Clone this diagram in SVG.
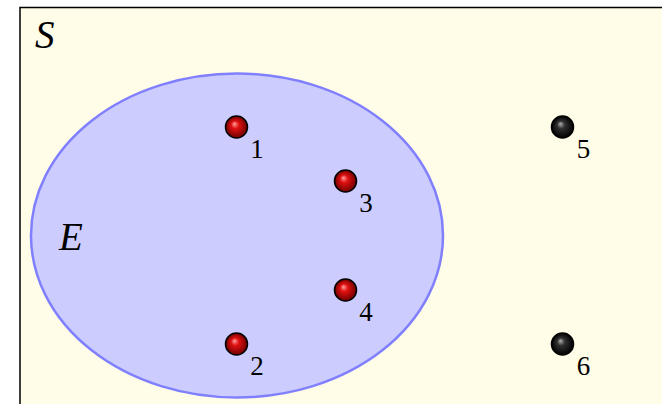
<svg xmlns="http://www.w3.org/2000/svg" width="662" height="404" viewBox="0 0 662 404">
<style>
.lbl{font-family:"Liberation Serif","DejaVu Serif",serif;fill:#000}
.big{font-size:39px;font-style:italic}
.num{font-size:27px;text-anchor:middle}
.ball{stroke:#000;stroke-width:1.5}
</style>
<defs>
<radialGradient id="red" cx="0.5" cy="0.5" r="0.5" fx="0.4" fy="0.35">
<stop offset="0" stop-color="#ffa0a0"/>
<stop offset="0.35" stop-color="#e01010"/>
<stop offset="1" stop-color="#700000"/>
</radialGradient>
<radialGradient id="blk" cx="0.5" cy="0.5" r="0.5" fx="0.4" fy="0.35">
<stop offset="0" stop-color="#b0b0b0"/>
<stop offset="0.35" stop-color="#303030"/>
<stop offset="1" stop-color="#000"/>
</radialGradient>
</defs>
<rect x="0" y="0" width="662" height="404" fill="#fff"/>
<g id="S">
<rect x="20" y="7.5" width="660" height="420" fill="#fffce8" stroke="#000" stroke-width="1.5"/>
<text class="lbl big" x="35" y="48">S</text>
</g>
<g id="E">
<ellipse cx="237" cy="235.5" rx="206" ry="162" fill="#ccccff" stroke="#8080ff" stroke-width="2.5"/>
<text class="lbl big" x="59" y="250">E</text>
</g>
<g id="n1"><circle class="ball" cx="236.5" cy="127" r="11" fill="url(#red)"/><text class="lbl num" x="257" y="158">1</text></g>
<g id="n2"><circle class="ball" cx="236.5" cy="344" r="11" fill="url(#red)"/><text class="lbl num" x="257" y="375">2</text></g>
<g id="n3"><circle class="ball" cx="345.5" cy="181" r="11" fill="url(#red)"/><text class="lbl num" x="366" y="212">3</text></g>
<g id="n4"><circle class="ball" cx="345.5" cy="290" r="11" fill="url(#red)"/><text class="lbl num" x="366" y="321">4</text></g>
<g id="n5"><circle class="ball" cx="562.5" cy="127" r="11" fill="url(#blk)"/><text class="lbl num" x="583.5" y="158">5</text></g>
<g id="n6"><circle class="ball" cx="562.5" cy="344" r="11" fill="url(#blk)"/><text class="lbl num" x="583.5" y="375">6</text></g>
<g id="connectors"></g>
</svg>
